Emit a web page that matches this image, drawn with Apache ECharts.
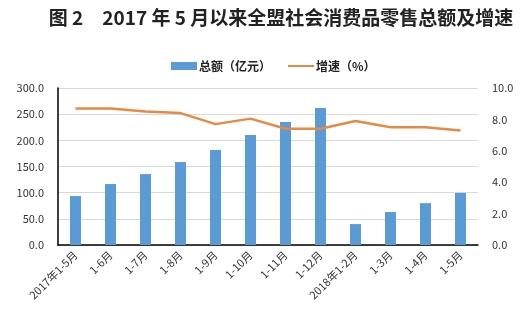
<!DOCTYPE html>
<html><head><meta charset="utf-8">
<script src="https://cdn.jsdelivr.net/npm/echarts@6/dist/echarts.min.js"></script>
<style>html,body{margin:0;padding:0;background:#fff;}#c{width:525px;height:319px;}</style>
</head><body><div id="c"></div>
<script>
const categories = ['2017年1-5月','1-6月','1-7月','1-8月','1-9月','1-10月','1-11月','1-12月','2018年1-2月','1-3月','1-4月','1-5月'];
const totals = [93.5, 116.5, 135.5, 158.5, 181.5, 210, 235, 262, 40, 63, 80, 99.5];
const growth = [8.7, 8.7, 8.5, 8.4, 7.7, 8.05, 7.4, 7.4, 7.9, 7.5, 7.5, 7.3];
const leftTicks = [0, 50, 100, 150, 200, 250, 300];
const rightTicks = [0, 2, 4, 6, 8, 10];
const chart = echarts.init(document.getElementById('c'));
const font = '"Noto Sans CJK SC", sans-serif';
chart.setOption({
  animation: false,
  backgroundColor: '#fff',
  title: {
    text: '图 2　2017 年 5 月以来全盟社会消费品零售总额及增速',
    left: 276, top: 3, textAlign: 'center',
    textStyle: {fontFamily: font, fontSize: 19, fontWeight: 'bold', color: '#222'}
  },
  legend: {
    top: 55, left: 166, itemGap: 16, itemWidth: 26, itemHeight: 8,
    textStyle: {fontFamily: font, fontSize: 12, fontWeight: 'bold', color: '#222', padding: [0, 0, 0, -3]},
    data: [{name: '总额（亿元）', icon: 'rect'}, {name: '增速（%）', itemStyle: {opacity: 0}}]
  },
  grid: {left: 58, right: 47, top: 88, bottom: 74},
  xAxis: {
    type: 'category', data: categories,
    axisLine: {lineStyle: {color: '#000', width: 1.5}},
    axisTick: {show: false},
    axisLabel: {rotate: 45, interval: 0, fontFamily: font, fontSize: 11, color: '#333', margin: 8}
  },
  yAxis: [{
    type: 'value', min: leftTicks[0], max: leftTicks[leftTicks.length-1], interval: 50,
    axisLine: {show: true, lineStyle: {color: '#000', width: 1.5}},
    axisTick: {show: false},
    splitLine: {lineStyle: {color: '#d9d9d9'}},
    axisLabel: {formatter: v => v.toFixed(1), fontFamily: font, fontSize: 11, color: '#333', margin: 14}
  }, {
    type: 'value', min: rightTicks[0], max: rightTicks[rightTicks.length-1], interval: 2,
    axisLine: {show: false}, axisTick: {show: false}, splitLine: {show: false},
    axisLabel: {formatter: v => v.toFixed(1), fontFamily: font, fontSize: 11, color: '#333', margin: 14}
  }],
  series: [{
    name: '总额（亿元）', type: 'bar', data: totals, barWidth: 11,
    itemStyle: {color: '#5b9bd5'}
  }, {
    name: '增速（%）', type: 'line', yAxisIndex: 1, data: growth,
    symbol: 'none', lineStyle: {color: '#e58a43', width: 2.5}, itemStyle: {color: '#e58a43'}
  }]
});
</script></body></html>
